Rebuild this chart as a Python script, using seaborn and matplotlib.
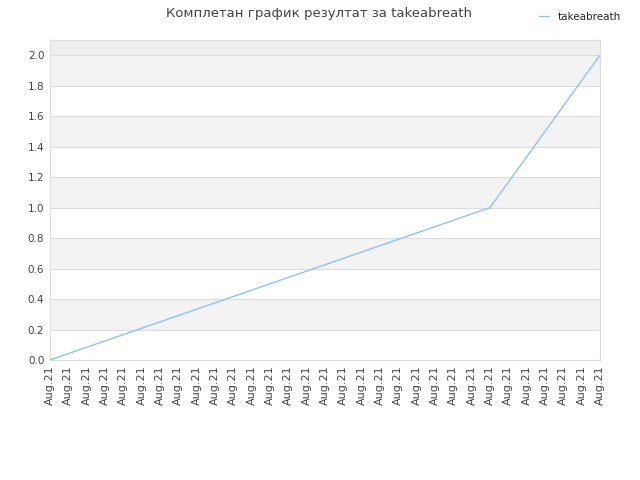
import matplotlib
matplotlib.use("Agg")
import matplotlib.pyplot as plt
import seaborn as sns
import pandas as pd

# Подаци
player = "takeabreath"
labels = ["Aug.21"] * 31
scores = [0.0, 0.0417, 0.0833, 0.125, 0.1667, 0.2083, 0.25, 0.2917, 0.3333,
          0.375, 0.4167, 0.4583, 0.5, 0.5417, 0.5833, 0.625, 0.6667, 0.7083,
          0.75, 0.7917, 0.8333, 0.875, 0.9167, 0.9583, 1.0,
          1.1667, 1.3333, 1.5, 1.6667, 1.8333, 2.0]

sns.set_theme(style="white")
plt.rcParams['font.family'] = ['DejaVu Sans']

df = pd.DataFrame({"idx": range(len(scores)), "score": scores})

fig = plt.figure(figsize=(6.4, 4.8), dpi=100)
ax = fig.add_axes([0.078, 0.25, 0.8595, 0.6667])

# позадинске траке
ax.axhspan(2.0, 2.1, color="#eeeeee", zorder=0, lw=0)
for lo in [0.2, 0.6, 1.0, 1.4, 1.8]:
    ax.axhspan(lo, lo + 0.2, color="#f3f3f3", zorder=0, lw=0)
for yv in [0.2, 0.4, 0.6, 0.8, 1.0, 1.2, 1.4, 1.6, 1.8, 2.0]:
    ax.axhline(yv, color="#dddddd", lw=0.8, zorder=1)

sns.lineplot(data=df, x="idx", y="score", ax=ax, color="#8fc1f5", lw=1,
             label=player, legend=False, zorder=3)

ax.set_xlim(0, len(scores) - 1)
ax.set_ylim(0, 2.1)
ax.set_yticks([0.0, 0.2, 0.4, 0.6, 0.8, 1.0, 1.2, 1.4, 1.6, 1.8, 2.0])
ax.set_yticklabels([f"{v:.1f}" for v in ax.get_yticks()], fontsize=7.5, color="#444444")
ax.set_xticks(range(len(labels)))
ax.set_xticklabels(labels, rotation=90, fontsize=8, color="#444444")
ax.tick_params(axis="both", length=0, pad=4)
ax.set_xlabel("")
ax.set_ylabel("")
for s in ax.spines.values():
    s.set_color("#dddddd")
    s.set_linewidth(0.8)

fig.text(0.498, 0.985, f"Комплетан график резултат за {player}", ha="center",
         va="top", fontsize=9.5, color="#444444")
handles, lbls = ax.get_legend_handles_labels()
fig.legend(handles, lbls, loc="upper right", bbox_to_anchor=(0.985, 0.995),
           frameon=False, fontsize=7.5, handlelength=1.0, handletextpad=0.8)

fig.savefig("out.png", dpi=100)
